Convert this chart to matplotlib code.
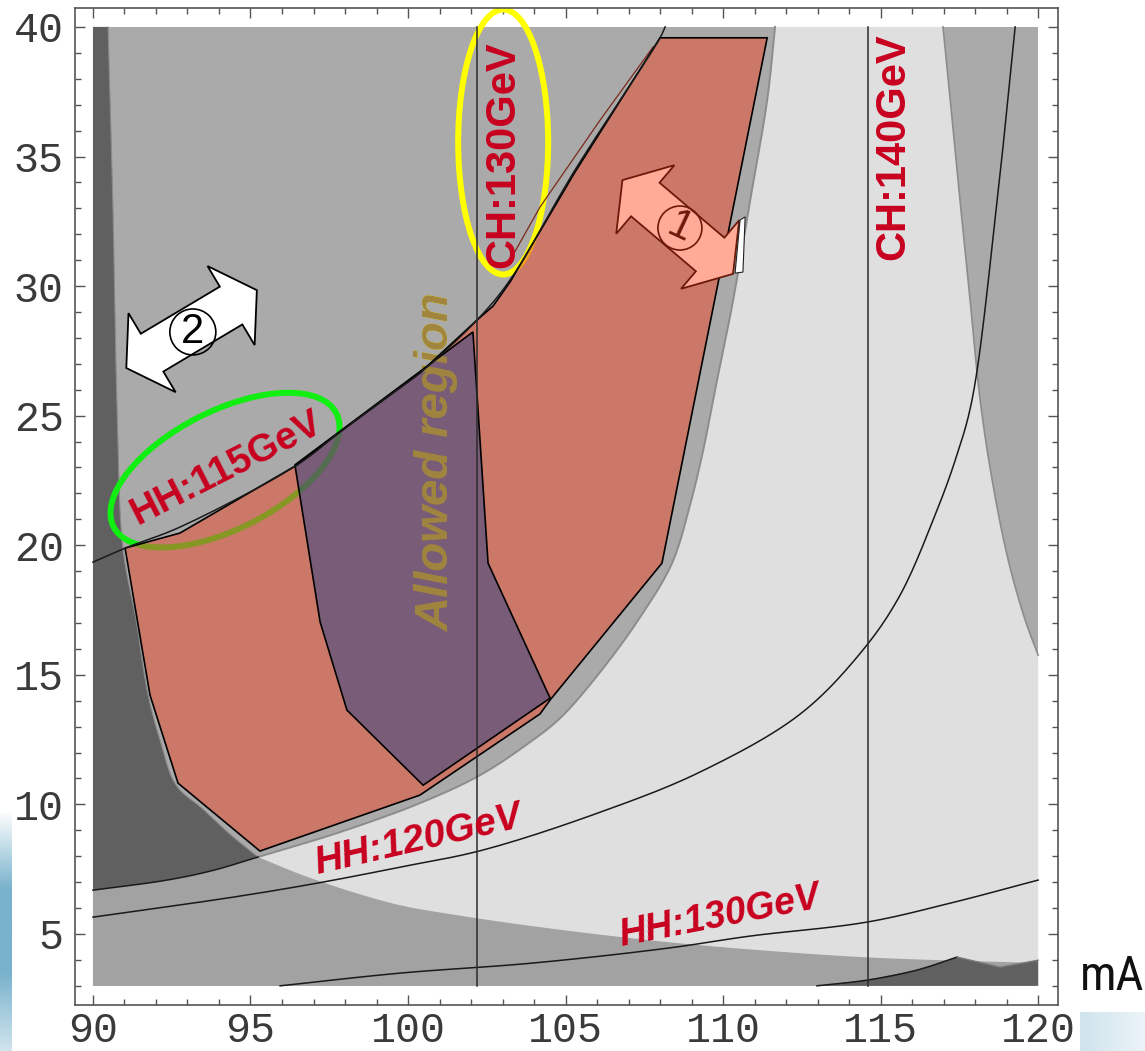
import matplotlib
matplotlib.use("Agg")
import matplotlib.pyplot as plt
import numpy as np
from matplotlib.patches import Polygon, Ellipse, Circle
from matplotlib.ticker import MultipleLocator
from matplotlib.transforms import ScaledTranslation

# axes and ticks (mA on x, tan beta on y)
x_ticks = [90, 95, 100, 105, 110, 115, 120]
y_ticks = [5, 10, 15, 20, 25, 30, 35, 40]
region_x = [90, 120]
region_y = [3, 40]

# contour lines
hh115_x = [90.0, 91.02, 92.76, 96.48, 97.84, 99.43, 100.38, 102.19, 103.24, 105.30, 108.0, 108.16]
hh115_y = [19.35, 19.89, 20.70, 23.10, 24.37, 25.80, 26.65, 28.69, 30.24, 34.48, 39.58, 40.0]
hh120_x = [90.0, 94.44, 97.11, 99.75, 102.38, 106.10, 109.27, 112.44, 114.44, 115.62, 116.73, 117.37, 117.90, 118.70, 119.27]
hh120_y = [5.65, 6.42, 6.96, 7.58, 8.24, 9.70, 11.25, 13.48, 15.96, 18.08, 21.17, 23.29, 25.60, 33.32, 40.0]
hh130_x = [95.94, 99.75, 103.97, 108.22, 110.86, 114.57, 117.21, 120.0]
hh130_y = [3.0, 3.49, 3.88, 4.45, 4.92, 5.46, 6.19, 7.08]
hhb_x = [90.0, 92.35, 93.8, 95.24]
hhb_y = [6.69, 7.08, 7.45, 7.97]
br_x = [112.98, 114.57, 116.16, 117.43]
br_y = [3.0, 3.22, 3.61, 4.11]
br_edge_x = [117.43, 118.79, 120.0]
br_edge_y = [4.11, 3.72, 3.99]
ch130_x = 102.2
ch140_x = 114.6

# excluded / allowed shading boundaries
dark_x = [90.48, 90.63, 90.76, 90.95, 91.37, 91.75, 92.13, 92.64, 93.49, 94.35, 95.24]
dark_y = [40.0, 33.32, 25.60, 19.89, 17.11, 14.22, 12.48, 10.74, 9.82, 8.85, 7.97]
light_left_x = [95.24, 97.84, 100.38, 102.29, 103.87, 104.83, 106.10, 107.37, 108.38, 108.95, 109.37, 109.68, 110.32, 110.86, 111.40, 111.65]
light_left_y = [7.97, 8.93, 10.05, 11.13, 12.40, 13.33, 15.11, 17.23, 19.31, 21.55, 23.67, 25.60, 29.46, 33.32, 37.18, 40.0]
light_low_x = [95.24, 96.57, 98.16, 99.75, 101.33, 103.97, 108.22, 112.44, 115.08, 120.0]
light_low_y = [7.97, 7.31, 6.65, 6.11, 5.77, 5.30, 4.69, 4.26, 4.07, 3.88]
right_x = [116.98, 117.21, 117.52, 117.84, 118.16, 118.54, 119.05, 119.59, 120.0]
right_y = [40.0, 37.18, 33.32, 29.46, 25.60, 22.52, 19.43, 17.11, 15.76]

# hand drawn regions
orange_x = [91.02, 91.81, 92.70, 95.30, 100.38, 104.19, 104.51, 108.06, 111.40, 108.0, 105.30, 103.24, 102.70, 102.19, 100.38, 97.84, 96.48, 92.76]
orange_y = [19.89, 14.22, 10.82, 8.20, 10.36, 13.49, 14.03, 19.31, 39.58, 39.58, 34.40, 30.16, 29.23, 28.69, 26.65, 24.37, 23.10, 20.47]
purple_x = [96.41, 102.06, 102.54, 104.51, 100.48, 98.06, 97.21]
purple_y = [23.10, 28.23, 19.31, 14.10, 10.74, 13.64, 17.04]
inner_x = [107.78, 106.10, 104.19, 103.24]
inner_y = [39.23, 36.41, 33.05, 31.0]
notch_x = [110.54, 110.70, 110.63, 110.38]
notch_y = [32.55, 32.67, 30.54, 30.50]

RED = "#c8001f"
SANS = ["Liberation Sans", "DejaVu Sans"]
SX, SY = 31.5, 25.91   # pixels per unit, used to smooth curves evenly


def smooth(xs, ys, n=14):
    # centripetal Catmull-Rom through the read points (drawing only)
    p = np.column_stack([np.asarray(xs, float) * SX, np.asarray(ys, float) * SY])
    if len(p) < 3:
        return list(xs), list(ys)
    p = np.vstack([2 * p[0] - p[1], p, 2 * p[-1] - p[-2]])
    out = [p[1]]
    for i in range(1, len(p) - 2):
        p0, p1, p2, p3 = p[i - 1], p[i], p[i + 1], p[i + 2]
        t0 = 0.0
        t1 = t0 + np.linalg.norm(p1 - p0) ** 0.5
        t2 = t1 + np.linalg.norm(p2 - p1) ** 0.5
        t3 = t2 + np.linalg.norm(p3 - p2) ** 0.5
        t = np.linspace(t1, t2, n)[1:, None]
        a1 = (t1 - t) / (t1 - t0) * p0 + (t - t0) / (t1 - t0) * p1
        a2 = (t2 - t) / (t2 - t1) * p1 + (t - t1) / (t2 - t1) * p2
        a3 = (t3 - t) / (t3 - t2) * p2 + (t - t2) / (t3 - t2) * p3
        b1 = (t2 - t) / (t2 - t0) * a1 + (t - t0) / (t2 - t0) * a2
        b2 = (t3 - t) / (t3 - t1) * a2 + (t - t1) / (t3 - t1) * a3
        out.extend((t2 - t) / (t2 - t1) * b1 + (t - t1) / (t2 - t1) * b2)
    out = np.array(out)
    return list(out[:, 0] / SX), list(out[:, 1] / SY)


fig = plt.figure(figsize=(11.45, 10.51), dpi=100)

# blue decorations at the page edges
g = np.concatenate([np.linspace(0, 1, 40), np.ones(40), np.linspace(1, 0.35, 40)])[:, None]
cmap = matplotlib.colors.LinearSegmentedColormap.from_list("b", ["#ffffff", "#78b2cc"])
deco = fig.add_axes([0, 0, 12 / 1145, 241 / 1051])
deco.imshow(g, aspect="auto", cmap=cmap, vmin=0, vmax=1)
deco.axis("off")
deco2 = fig.add_axes([1080 / 1145, 0, 65 / 1145, 39 / 1051])
deco2.imshow(np.linspace(0.35, 0.15, 30)[None, :], aspect="auto", cmap=cmap, vmin=0, vmax=1)
deco2.axis("off")

ax = fig.add_axes([75 / 1145, 46 / 1051, 983 / 1145, 997 / 1051])
ax.set_xlim(89.43, 120.63)
ax.set_ylim(2.26, 40.73)


def fill(xs, ys, color, z, **kw):
    p = Polygon(np.column_stack([xs, ys]), closed=True, facecolor=color,
                edgecolor="none", zorder=z, **kw)
    ax.add_patch(p)
    return p


def at(x, y):
    return fig.dpi_scale_trans + ScaledTranslation(x, y, ax.transData)


x0, x1 = region_x
y0, y1 = region_y
dkx, dky = smooth(dark_x, dark_y)
l1x, l1y = smooth(light_left_x, light_left_y)
l2x, l2y = smooth(light_low_x, light_low_y)
rx, ry = smooth(right_x, right_y)
bx, by = smooth(hhb_x, hhb_y)

fill([x0, x1, x1, x0], [y0, y0, y1, y1], "#aaaaaa", 0.1)
fill([x0] + bx + l2x[1:] + [x1, x0], [y0] + by + l2y[1:] + [y0, y0], "#a2a2a2", 0.2)
fill([x0] + dkx + bx[::-1][1:], [y1] + dky + by[::-1][1:], "#606060", 0.3)
fill(l1x + rx + l2x[::-1][:-1], l1y + ry + l2y[::-1][:-1], "#dfdfdf", 0.4)
fill(br_x + br_edge_x[1:] + [x1], br_y + br_edge_y[1:] + [y0], "#606060", 0.5)

ax.plot(l1x, l1y, color="#8c8c8c", lw=1.4, zorder=0.6)
ax.plot(rx, ry, color="#8c8c8c", lw=1.2, zorder=0.6)
ax.plot(dkx, dky, color="#8a8a8a", lw=0.8, zorder=0.6)

# annotations lying under the translucent regions
ax.add_patch(Ellipse((0, 0), 0.90, 2.65, angle=0, transform=at(103.02, 35.56),
                     fill=False, edgecolor="#ffff00", lw=4.3, zorder=2))
ax.add_patch(Ellipse((0, 0), 2.50, 1.18, angle=27, transform=at(94.19, 22.90),
                     fill=False, edgecolor="#11ee11", lw=4.3, zorder=2))
allowed = dict(rotation=90, ha="center", va="center", rotation_mode="anchor",
               fontsize=34, fontweight="bold", fontstyle="italic", family=SANS)
ax.text(100.92, 23.21, "Allowed region", color="#ffee00", zorder=2.5, **allowed)

# allowed regions
fill(orange_x, orange_y, (231 / 255, 80 / 255, 53 / 255), 3, alpha=0.55)
purple = fill(purple_x, purple_y, (23 / 255, 58 / 255, 138 / 255), 4, alpha=0.45)
seen = ax.text(100.92, 23.21, "Allowed region", color="#a08540", zorder=4.2, **allowed)
seen.set_clip_path(purple)
ax.plot(inner_x, inner_y, color="#7a2a1a", lw=0.9, zorder=4.5)
for xs, ys in [(orange_x, orange_y), (purple_x, purple_y)]:
    ax.add_patch(Polygon(np.column_stack([xs, ys]), closed=True, fill=False,
                         edgecolor="black", lw=1.2, zorder=5))

# contour lines
for xs, ys in [(hh115_x, hh115_y), (hh120_x, hh120_y), (hh130_x, hh130_y),
               (hhb_x, hhb_y), (br_x, br_y)]:
    sx, sy = smooth(xs, ys)
    ax.plot(sx, sy, color="#1a1a1a", lw=1.1, zorder=6)
ax.plot(br_edge_x, br_edge_y, color="#7a7a7a", lw=1.0, zorder=6)
for cx in (ch130_x, ch140_x):
    ax.plot([cx, cx], region_y, color="#2b2b2b", lw=1.1, zorder=6)

# labels
lab = dict(ha="center", va="center", rotation_mode="anchor", fontweight="bold",
           color=RED, family=SANS, zorder=7)
ax.text(103.02, 35.06, "CH:130GeV", rotation=90, fontsize=30, **lab)
ax.text(115.40, 35.37, "CH:140GeV", rotation=90, fontsize=30, **lab)
ax.text(94.25, 22.95, "HH:115GeV", rotation=27, fontsize=28, **lab)
ax.text(100.32, 8.62, "HH:120GeV", rotation=13, fontsize=28, fontstyle="italic", **lab)
ax.text(109.90, 5.65, "HH:130GeV", rotation=11, fontsize=27, fontstyle="italic", **lab)


def double_arrow(x, y, length, head_len, head_w, shaft_w, angle, face, edge):
    a, h = length / 2.0, head_len
    pts = np.array([(-a, 0), (-a + h, head_w), (-a + h, shaft_w), (a - h, shaft_w),
                    (a - h, head_w), (a, 0), (a - h, -head_w), (a - h, -shaft_w),
                    (-a + h, -shaft_w), (-a + h, -head_w)]) / 100.0
    t = np.deg2rad(angle)
    rot = np.array([[np.cos(t), -np.sin(t)], [np.sin(t), np.cos(t)]])
    ax.add_patch(Polygon(pts @ rot.T, closed=True, facecolor=face, edgecolor=edge,
                         lw=1.3, transform=at(x, y), zorder=8))


double_arrow(93.13, 28.34, 152, 30, 46, 22, 30.8, "white", "black")
ax.add_patch(Circle((0, 0), 0.23, transform=at(93.17, 28.23), fill=False,
                    edgecolor="black", lw=1.2, zorder=9))
ax.text(93.17, 28.23, "2", ha="center", va="center", fontsize=30, color="black",
        family=SANS, zorder=9)

double_arrow(108.56, 32.28, 145, 30, 45, 22, -40.3, "#ffab98", "#6b1a0a")
fill(notch_x, notch_y, "white", 8.5)
ax.add_patch(Polygon(np.column_stack([notch_x, notch_y]), closed=True, fill=False,
                     edgecolor="#222222", lw=0.8, zorder=8.6))
ax.add_patch(Circle((0, 0), 0.22, transform=at(108.63, 32.24), fill=False,
                    edgecolor="#6b1a0a", lw=1.2, zorder=9))
ax.text(108.63, 32.24, "1", ha="center", va="center", fontsize=30, color="#6b1a0a",
        rotation=-25, family=SANS, zorder=9)

# frame and ticks
ax.set_xticks(x_ticks)
ax.set_yticks(y_ticks)
ax.xaxis.set_minor_locator(MultipleLocator(1))
ax.yaxis.set_minor_locator(MultipleLocator(1))
ax.tick_params(which="major", direction="in", length=7, width=1, color="#555555",
               top=True, right=True, labelsize=30, labelcolor="#3a3a3a")
ax.tick_params(axis="y", which="major", pad=8)
ax.tick_params(axis="x", which="major", pad=4)
ax.tick_params(which="minor", direction="in", length=4, width=1, color="#555555",
               top=True, right=True)
for lbl in ax.get_xticklabels() + ax.get_yticklabels():
    lbl.set_fontfamily(["Liberation Mono", "DejaVu Sans Mono"])
for s in ax.spines.values():
    s.set_color("#555555")
    s.set_linewidth(1.2)

fig.text(1112 / 1145, 1 - 977 / 1051, "mA", ha="center", va="center", fontsize=35,
         color="#111111", family=["Roboto Condensed", "Liberation Sans", "DejaVu Sans"])

fig.savefig("out.png", dpi=100)
